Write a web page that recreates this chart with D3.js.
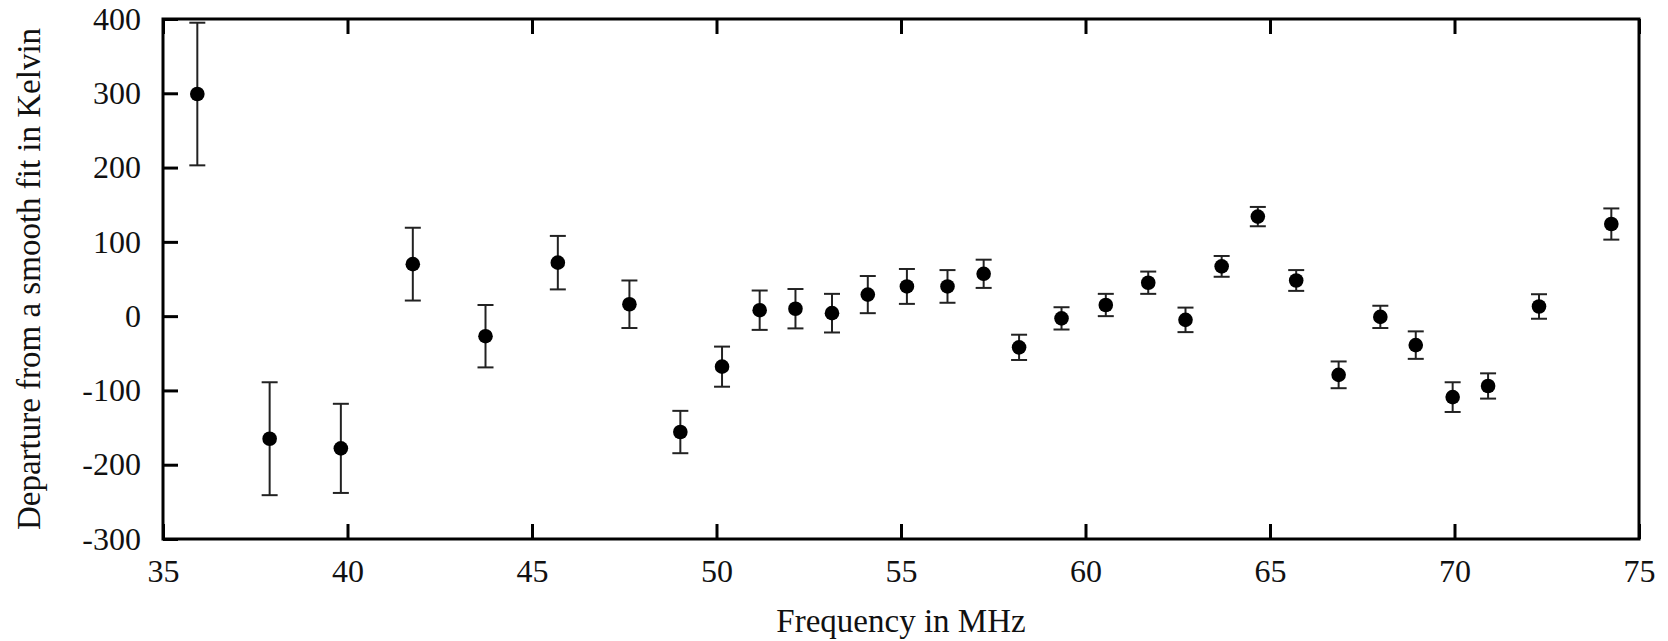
<!DOCTYPE html>
<html>
<head>
<meta charset="utf-8">
<script src="https://cdn.jsdelivr.net/npm/d3@7"></script>
<style>
  body { margin: 0; background: #fff; }
  svg text { font-family: "Liberation Serif", "Times New Roman", serif; fill: #111; }
</style>
</head>
<body>
<div id="chart"></div>
<script>
// frequency (MHz), departure (K), error bar half-length (K)
const freq = [35.93, 37.89, 39.82, 41.77, 43.74, 45.70, 47.64, 49.02, 50.15, 51.17,
  52.14, 53.13, 54.10, 55.16, 56.26, 57.24, 58.20, 59.35, 60.55, 61.70,
  62.71, 63.69, 64.67, 65.71, 66.86, 67.99, 68.95, 69.95, 70.91, 72.29, 74.25];
const departure = [299, -165, -178, 70, -27, 72, 16, -156, -68, 8,
  10, 4, 29, 40, 40, 57, -42, -3, 15, 45,
  -5, 67, 134, 48, -79, -1, -39, -109, -94, 13, 124];
const errBar = [96, 76, 60, 49, 42, 36, 32, 28.5, 27, 26.5,
  26.5, 26, 25, 23.5, 22, 19, 17, 15, 15, 15,
  16.5, 14, 13, 14, 18, 15, 18.5, 20, 17, 16.5, 21];
const xTicks = [35, 40, 45, 50, 55, 60, 65, 70, 75];
const yTicks = [-300, -200, -100, 0, 100, 200, 300, 400];

const W = 1668, H = 641;
const margin = { top: 19, right: 29, bottom: 102, left: 163 };
const width = W - margin.left - margin.right;
const height = H - margin.top - margin.bottom;

const data = freq.map((f, i) => ({ f, v: departure[i], e: errBar[i] }));

const svg = d3.select('#chart').append('svg').attr('width', W).attr('height', H);
const chart = svg.append('g').attr('transform', `translate(${margin.left},${margin.top})`);

const x = d3.scaleLinear().domain([35, 75]).range([0, width]);
const y = d3.scaleLinear().domain([-300, 400]).range([height, 0]);

// plain hyphen for negatives, like the original plot
const fmt = d => String(d);

// axes, ticks pointing inwards
const xAxis = chart.append('g')
  .attr('transform', `translate(0,${height})`)
  .call(d3.axisBottom(x).tickValues(xTicks).tickFormat(fmt).tickSizeInner(-15).tickSizeOuter(0).tickPadding(20));
const topAxis = chart.append('g')
  .call(d3.axisTop(x).tickValues(xTicks).tickSizeInner(-15).tickSizeOuter(0).tickFormat(''));
const yAxis = chart.append('g')
  .call(d3.axisLeft(y).tickValues(yTicks).tickFormat(fmt).tickSizeInner(-15).tickSizeOuter(0).tickPadding(22));

[xAxis, topAxis, yAxis].forEach(a => {
  a.select('.domain').remove();
  a.selectAll('.tick line').attr('stroke', '#000').attr('stroke-width', 3);
  a.selectAll('.tick text').style('font-size', '32px').attr('fill', '#111');
});

// frame
chart.append('rect')
  .attr('width', width).attr('height', height)
  .attr('fill', 'none').attr('stroke', '#000').attr('stroke-width', 3);

// error bars
const bars = chart.append('g').attr('stroke', '#222').attr('stroke-width', 2);
const capW = 8;
bars.selectAll('.stem').data(data).enter().append('line')
  .attr('x1', d => x(d.f)).attr('x2', d => x(d.f))
  .attr('y1', d => y(d.v + d.e)).attr('y2', d => y(d.v - d.e));
bars.selectAll('.capTop').data(data).enter().append('line')
  .attr('x1', d => x(d.f) - capW).attr('x2', d => x(d.f) + capW)
  .attr('y1', d => y(d.v + d.e)).attr('y2', d => y(d.v + d.e));
bars.selectAll('.capBot').data(data).enter().append('line')
  .attr('x1', d => x(d.f) - capW).attr('x2', d => x(d.f) + capW)
  .attr('y1', d => y(d.v - d.e)).attr('y2', d => y(d.v - d.e));

// points
chart.append('g').selectAll('circle').data(data).enter().append('circle')
  .attr('cx', d => x(d.f)).attr('cy', d => y(d.v))
  .attr('r', 7.3).attr('fill', '#000');

// axis titles
svg.append('text')
  .attr('x', margin.left + width / 2).attr('y', 632)
  .attr('text-anchor', 'middle').style('font-size', '33px')
  .text('Frequency in MHz');

svg.append('text')
  .attr('transform', `translate(40,${margin.top + height / 2}) rotate(-90)`)
  .attr('text-anchor', 'middle').style('font-size', '33px')
  .text('Departure from a smooth fit in Kelvin');
</script>
</body>
</html>
